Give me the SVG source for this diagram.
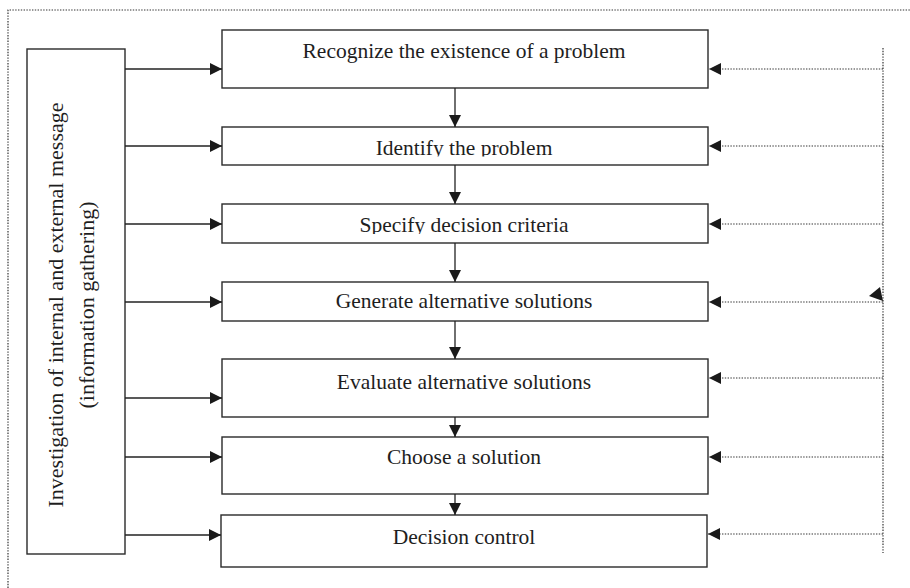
<svg xmlns="http://www.w3.org/2000/svg" width="910" height="588" viewBox="0 0 910 588">
<style>
.box{fill:#fff;stroke:#2a2a2a;stroke-width:1.4}
.lbl{font-family:"Liberation Serif","Times New Roman",serif;font-size:21.5px;fill:#1e1e1e;text-anchor:middle}
.vl{font-size:22px}
.solid{stroke:#222;stroke-width:1.3;fill:none}
.dot{stroke:#333;stroke-width:1.2;stroke-dasharray:1.4 1.4;fill:none}
</style>
<defs>
<marker id="ah" markerUnits="userSpaceOnUse" markerWidth="13" markerHeight="13" refX="12" refY="6" orient="auto">
<path d="M0,0 L12,6 L0,12 z" fill="#1a1a1a"/>
</marker>
<clipPath id="c2"><rect x="222" y="127" width="486" height="29.5"/></clipPath>
<clipPath id="c3"><rect x="222" y="204" width="486" height="30"/></clipPath>
</defs>
<rect width="910" height="588" fill="#fff"/>
<path class="dot" d="M8,588 V10 H910"/>

<g id="info">
<rect class="box" x="27" y="49" width="98" height="505"/>
<text class="lbl vl" transform="translate(63,305) rotate(-90)">Investigation of internal and external message</text>
<text class="lbl vl" transform="translate(94,305) rotate(-90)">(information gathering)</text>
</g>

<g id="n1"><rect class="box" x="222" y="30" width="486" height="58"/><text class="lbl" x="464" y="58">Recognize the existence of a problem</text></g>
<g id="n2"><rect class="box" x="222" y="127" width="486" height="38"/><text class="lbl" x="464" y="155" clip-path="url(#c2)">Identify the problem</text></g>
<g id="n3"><rect class="box" x="222" y="204" width="486" height="39"/><text class="lbl" x="464" y="232" clip-path="url(#c3)">Specify decision criteria</text></g>
<g id="n4"><rect class="box" x="222" y="282" width="486" height="39"/><text class="lbl" x="464" y="308">Generate alternative solutions</text></g>
<g id="n5"><rect class="box" x="222" y="359" width="486" height="58"/><text class="lbl" x="464" y="389">Evaluate alternative solutions</text></g>
<g id="n6"><rect class="box" x="222" y="437" width="486" height="57"/><text class="lbl" x="464" y="464">Choose a solution</text></g>
<g id="n7"><rect class="box" x="221" y="515" width="486" height="52"/><text class="lbl" x="464" y="544">Decision control</text></g>

<g id="connectors">
<path class="solid" d="M125,69 H222" marker-end="url(#ah)"/>
<path class="solid" d="M125,146 H222" marker-end="url(#ah)"/>
<path class="solid" d="M125,224 H222" marker-end="url(#ah)"/>
<path class="solid" d="M125,302 H222" marker-end="url(#ah)"/>
<path class="solid" d="M125,398 H222" marker-end="url(#ah)"/>
<path class="solid" d="M125,457 H222" marker-end="url(#ah)"/>
<path class="solid" d="M125,535 H221" marker-end="url(#ah)"/>

<path class="solid" d="M455,88 V127" marker-end="url(#ah)"/>
<path class="solid" d="M455,165 V204" marker-end="url(#ah)"/>
<path class="solid" d="M455,243 V282" marker-end="url(#ah)"/>
<path class="solid" d="M455,321 V359" marker-end="url(#ah)"/>
<path class="solid" d="M455,417 V437" marker-end="url(#ah)"/>
<path class="solid" d="M455,494 V515" marker-end="url(#ah)"/>

<path class="dot" d="M883,48 V553"/>
<path class="dot" d="M883,69 H709" marker-end="url(#ah)"/>
<path class="dot" d="M883,146 H709" marker-end="url(#ah)"/>
<path class="dot" d="M883,224 H709" marker-end="url(#ah)"/>
<path class="dot" d="M883,302 H709" marker-end="url(#ah)"/>
<path class="dot" d="M883,378 H709" marker-end="url(#ah)"/>
<path class="dot" d="M883,457 H709" marker-end="url(#ah)"/>
<path class="dot" d="M883,534 H708" marker-end="url(#ah)"/>
<polygon points="880,287 869,296 883,301" fill="#1a1a1a"/>
</g>
</svg>
